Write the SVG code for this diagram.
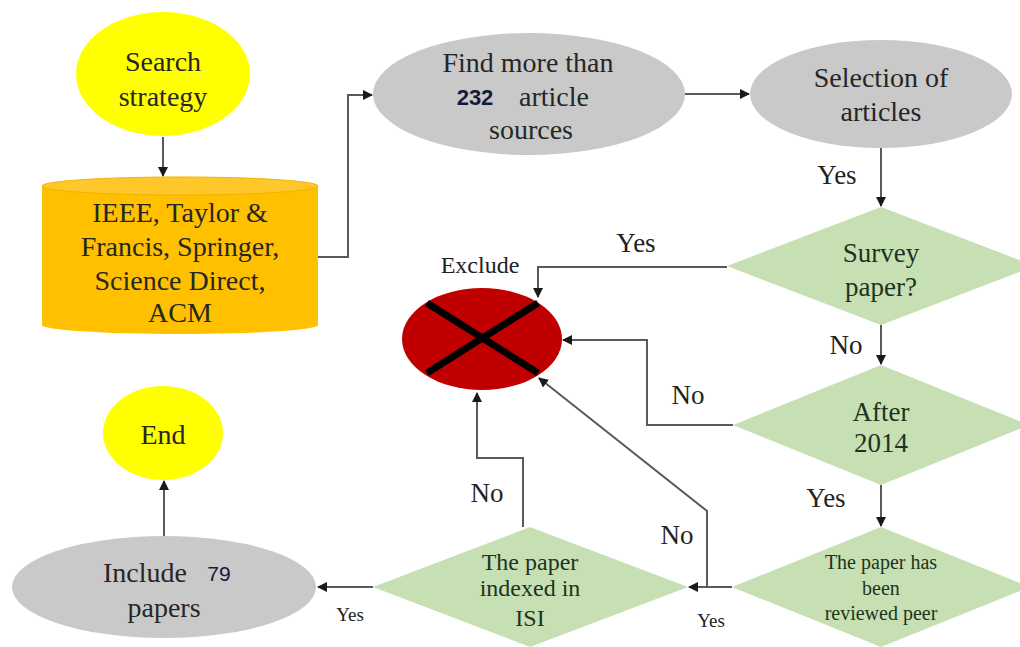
<svg xmlns="http://www.w3.org/2000/svg" width="1020" height="647" viewBox="0 0 1020 647">
  <style>
    text { font-family: 'Liberation Serif', 'Times New Roman', serif !important; }
    text.num { font-family: 'Liberation Sans', Arial, sans-serif !important; fill: #141a3c; }
    .conn { fill: none; stroke: #5a5a5a; stroke-width: 2; }
  </style>
  <defs>
    <marker id="arrow" viewBox="0 0 10 10" refX="9" refY="5" markerWidth="5" markerHeight="5" orient="auto">
      <path d="M0,0 L10,5 L0,10 z" fill="#1a1a1a"/>
    </marker>
  </defs>
  <rect width="1020" height="647" fill="#ffffff"/>

  <!-- connectors: grey 2px lines ending in small black arrowheads -->
  <g id="connectors">
    <path class="conn" d="M163,137 L163,176" marker-end="url(#arrow)"/>
    <path class="conn" d="M318,257 L348,257 L348,95 L372,95" marker-end="url(#arrow)"/>
    <path class="conn" d="M685,94 L749,94" marker-end="url(#arrow)"/>
    <path class="conn" d="M881,148 L881,206" marker-end="url(#arrow)"/>
    <path class="conn" d="M727,267 L538,267 L538,297" marker-end="url(#arrow)"/>
    <path class="conn" d="M881,325 L881,364" marker-end="url(#arrow)"/>
    <path class="conn" d="M733,425 L647,425 L647,340 L563,340" marker-end="url(#arrow)"/>
    <path class="conn" d="M881,485 L881,526" marker-end="url(#arrow)"/>
    <path class="conn" d="M732,587 L689,587" marker-end="url(#arrow)"/>
    <path class="conn" d="M707,587 L707,511 L539,378" marker-end="url(#arrow)"/>
    <path class="conn" d="M523,527 L523,458 L477,458 L477,393" marker-end="url(#arrow)"/>
    <path class="conn" d="M373,587 L318,587" marker-end="url(#arrow)"/>
    <path class="conn" d="M164,537 L164,481" marker-end="url(#arrow)"/>
  </g>

  <!-- connector labels -->
  <g id="labels" fill="#222222" text-anchor="middle">
    <text x="837" y="184" font-size="27" font-family="Liberation Serif">Yes</text>
    <text x="636" y="252" font-size="27" font-family="Liberation Serif">Yes</text>
    <text x="846" y="354" font-size="27" font-family="Liberation Serif">No</text>
    <text x="688" y="404" font-size="27" font-family="Liberation Serif">No</text>
    <text x="826" y="507" font-size="27" font-family="Liberation Serif">Yes</text>
    <text x="677" y="544" font-size="27" font-family="Liberation Serif">No</text>
    <text x="487" y="502" font-size="27" font-family="Liberation Serif">No</text>
    <text x="711" y="627" font-size="19" font-family="Liberation Serif">Yes</text>
    <text x="350" y="621" font-size="19" font-family="Liberation Serif">Yes</text>
  </g>

  <g id="search-strategy" fill="#262626" text-anchor="middle">
    <ellipse cx="163" cy="74" rx="87" ry="62" fill="#ffff00"/>
    <text x="163" y="71" font-size="28" font-family="Liberation Serif">Search</text>
    <text x="163" y="106" font-size="28" font-family="Liberation Serif">strategy</text>
  </g>

  <g id="databases" fill="#262626" text-anchor="middle">
    <rect x="42" y="186" width="276" height="139" fill="#ffc000"/>
    <ellipse cx="180" cy="325" rx="138" ry="9" fill="#ffc000"/>
    <ellipse cx="180" cy="186" rx="138" ry="9" fill="#ffc72a" stroke="#f0b400" stroke-width="1"/>
    <text x="180" y="222" font-size="28" font-family="Liberation Serif">IEEE, Taylor &amp;</text>
    <text x="180" y="256" font-size="28" font-family="Liberation Serif">Francis, Springer,</text>
    <text x="180" y="290" font-size="28" font-family="Liberation Serif">Science Direct,</text>
    <text x="180" y="322" font-size="28" font-family="Liberation Serif">ACM</text>
  </g>

  <g id="find-sources" fill="#262626" text-anchor="middle">
    <ellipse cx="529" cy="94" rx="156" ry="61" fill="#c9c9c9"/>
    <text x="528" y="72" font-size="28" font-family="Liberation Serif">Find more than</text>
    <text class="num" x="475" y="105" font-size="22" font-weight="bold" font-family="Liberation Sans">232</text>
    <text x="554" y="106" font-size="28" font-family="Liberation Serif">article</text>
    <text x="531" y="139" font-size="28" font-family="Liberation Serif">sources</text>
  </g>

  <g id="selection" fill="#262626" text-anchor="middle">
    <ellipse cx="881" cy="94" rx="131" ry="54" fill="#c9c9c9"/>
    <text x="881" y="87" font-size="28" font-family="Liberation Serif">Selection of</text>
    <text x="881" y="121" font-size="28" font-family="Liberation Serif">articles</text>
  </g>

  <g id="survey-paper" fill="#1e331e" text-anchor="middle">
    <polygon points="881,207 1035,266 881,325 727,266" fill="#c6e0b4"/>
    <text x="881" y="262" font-size="27" font-family="Liberation Serif">Survey</text>
    <text x="881" y="296" font-size="27" font-family="Liberation Serif">paper?</text>
  </g>

  <g id="exclude" text-anchor="middle">
    <text x="480" y="273" font-size="24" font-family="Liberation Serif" fill="#222222">Exclude</text>
    <ellipse cx="482" cy="339" rx="80" ry="51" fill="#c00000"/>
    <line x1="427" y1="303" x2="538" y2="373" stroke="#000" stroke-width="7"/>
    <line x1="427" y1="373" x2="538" y2="303" stroke="#000" stroke-width="7"/>
  </g>

  <g id="after-2014" fill="#1e331e" text-anchor="middle">
    <polygon points="881,365 1029,425 881,485 733,425" fill="#c6e0b4"/>
    <text x="881" y="421" font-size="27" font-family="Liberation Serif">After</text>
    <text x="881" y="452" font-size="27" font-family="Liberation Serif">2014</text>
  </g>

  <g id="peer-reviewed" fill="#1e331e" text-anchor="middle">
    <polygon points="881,527 1030,587 881,647 732,587" fill="#c6e0b4"/>
    <text x="881" y="569" font-size="20" font-family="Liberation Serif">The paper has</text>
    <text x="881" y="595" font-size="20" font-family="Liberation Serif">been</text>
    <text x="881" y="620" font-size="20" font-family="Liberation Serif">reviewed peer</text>
  </g>

  <g id="indexed-isi" fill="#1e331e" text-anchor="middle">
    <polygon points="530,527 688,587 530,647 373,587" fill="#c6e0b4"/>
    <text x="530" y="570" font-size="24" font-family="Liberation Serif">The paper</text>
    <text x="530" y="596" font-size="24" font-family="Liberation Serif">indexed in</text>
    <text x="530" y="626" font-size="24" font-family="Liberation Serif">ISI</text>
  </g>

  <g id="include" fill="#262626" text-anchor="middle">
    <ellipse cx="164" cy="587" rx="152" ry="51" fill="#c9c9c9"/>
    <text x="145" y="582" font-size="28" font-family="Liberation Serif">Include</text>
    <text class="num" x="219" y="581" font-size="21" font-family="Liberation Sans">79</text>
    <text x="164" y="617" font-size="28" font-family="Liberation Serif">papers</text>
  </g>

  <g id="end" fill="#262626" text-anchor="middle">
    <ellipse cx="163" cy="433" rx="60" ry="47" fill="#ffff00"/>
    <text x="163" y="444" font-size="28" font-family="Liberation Serif">End</text>
  </g>
</svg>
